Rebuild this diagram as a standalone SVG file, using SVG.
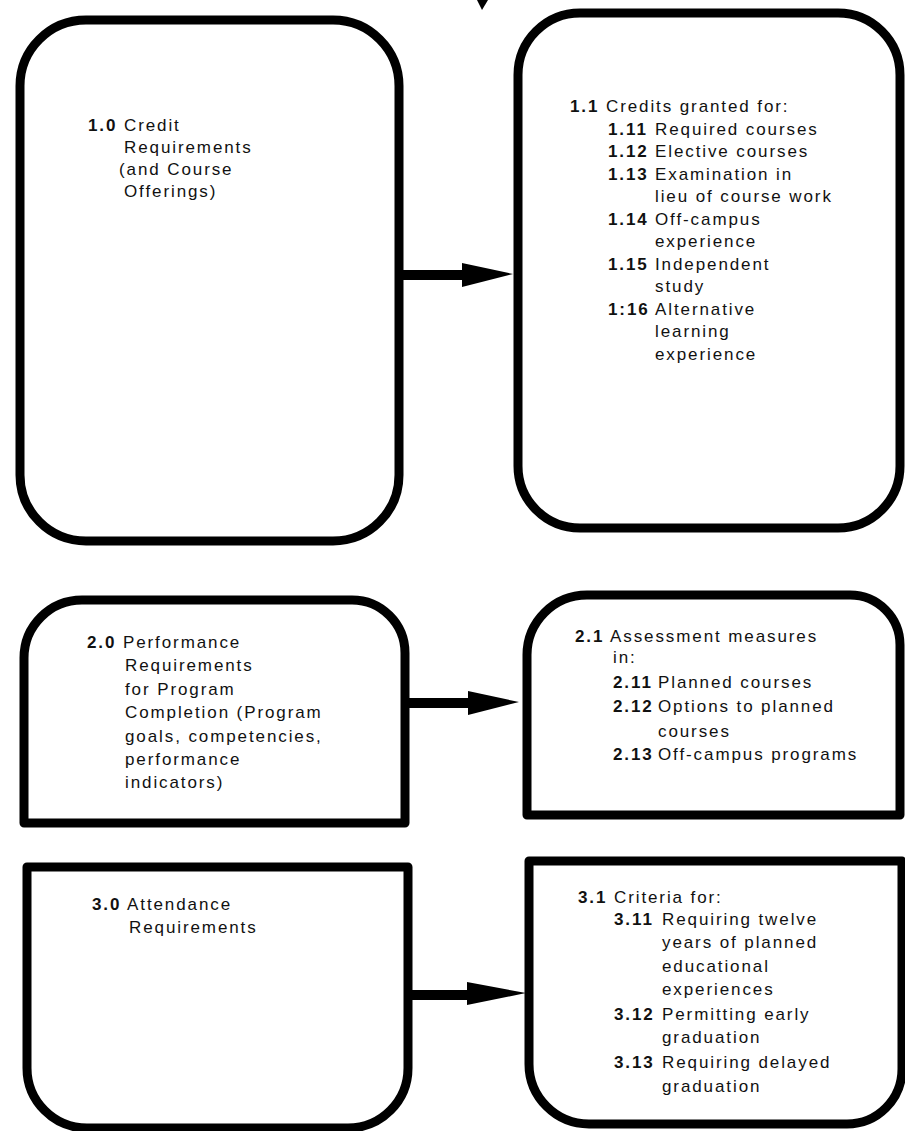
<svg xmlns="http://www.w3.org/2000/svg" width="905" height="1131" viewBox="0 0 905 1131">
  <style>
    .box { fill: none; stroke: #000; stroke-width: 9; stroke-linejoin: round; }
    .wire { stroke: #000; stroke-width: 10; fill: none; }
    .head { fill: #000; }
    text { font-family: "Liberation Sans", Arial, sans-serif; font-size: 17px; letter-spacing: 1.9px; fill: #111; }
    .n { font-weight: bold; }
  </style>
  <rect width="905" height="1131" fill="#fff"/>

  <!-- stray mark at the top edge -->
  <path d="M477 0 L488 0 L482 10 Z" fill="#000"/>

  <g id="n1-0">
    <rect class="box" x="20" y="20" width="379" height="521" rx="66" ry="66"/>
    <text x="88" y="131"><tspan class="n">1.0</tspan> Credit</text>
    <text x="124" y="153">Requirements</text>
    <text x="119" y="175">(and Course</text>
    <text x="124" y="197">Offerings)</text>
  </g>

  <g id="n1-1">
    <rect class="box" x="518" y="13" width="382" height="515" rx="62" ry="62"/>
    <text x="570" y="112"><tspan class="n">1.1</tspan> Credits granted for:</text>
    <text x="608" y="135"><tspan class="n">1.11</tspan><tspan x="655">Required courses</tspan></text>
    <text x="608" y="157"><tspan class="n">1.12</tspan><tspan x="655">Elective courses</tspan></text>
    <text x="608" y="180"><tspan class="n">1.13</tspan><tspan x="655">Examination in</tspan></text>
    <text x="655" y="202">lieu of course work</text>
    <text x="608" y="225"><tspan class="n">1.14</tspan><tspan x="655">Off-campus</tspan></text>
    <text x="655" y="247">experience</text>
    <text x="608" y="270"><tspan class="n">1.15</tspan><tspan x="655">Independent</tspan></text>
    <text x="655" y="292">study</text>
    <text x="608" y="315"><tspan class="n">1:16</tspan><tspan x="655">Alternative</tspan></text>
    <text x="655" y="337">learning</text>
    <text x="655" y="360">experience</text>
  </g>

  <g id="n2-0">
    <path class="box" d="M24 823 L24 658 A58 58 0 0 1 82 600 L352 600 A53 53 0 0 1 405 653 L405 823 Z"/>
    <text x="87" y="648"><tspan class="n">2.0</tspan> Performance</text>
    <text x="125" y="671">Requirements</text>
    <text x="125" y="695">for Program</text>
    <text x="125" y="718">Completion (Program</text>
    <text x="125" y="742">goals, competencies,</text>
    <text x="125" y="765">performance</text>
    <text x="125" y="788">indicators)</text>
  </g>

  <g id="n2-1">
    <path class="box" d="M527 815 L527 655 A60 60 0 0 1 587 595 L850 595 A50 50 0 0 1 900 645 L900 815 Z"/>
    <text x="575" y="642"><tspan class="n">2.1</tspan> Assessment measures</text>
    <text x="613" y="663">in:</text>
    <text x="613" y="688"><tspan class="n">2.11</tspan><tspan x="658">Planned courses</tspan></text>
    <text x="613" y="712"><tspan class="n">2.12</tspan><tspan x="658">Options to planned</tspan></text>
    <text x="658" y="737">courses</text>
    <text x="613" y="760"><tspan class="n">2.13</tspan><tspan x="658">Off-campus programs</tspan></text>
  </g>

  <g id="n3-0">
    <path class="box" d="M27 867 L408 867 L408 1068 A60 60 0 0 1 348 1128 L87 1128 A60 60 0 0 1 27 1068 Z"/>
    <text x="92" y="910"><tspan class="n">3.0</tspan> Attendance</text>
    <text x="129" y="933">Requirements</text>
  </g>

  <g id="n3-1">
    <path class="box" d="M529 861 L902 861 L902 1069 A55 55 0 0 1 847 1124 L589 1124 A60 60 0 0 1 529 1064 Z"/>
    <text x="578" y="903"><tspan class="n">3.1</tspan> Criteria for:</text>
    <text x="614" y="925"><tspan class="n">3.11</tspan><tspan x="662">Requiring twelve</tspan></text>
    <text x="662" y="948">years of planned</text>
    <text x="662" y="972">educational</text>
    <text x="662" y="995">experiences</text>
    <text x="614" y="1020"><tspan class="n">3.12</tspan><tspan x="662">Permitting early</tspan></text>
    <text x="662" y="1043">graduation</text>
    <text x="614" y="1068"><tspan class="n">3.13</tspan><tspan x="662">Requiring delayed</tspan></text>
    <text x="662" y="1092">graduation</text>
  </g>

  <g id="connectors">
    <line class="wire" x1="403" y1="275" x2="465" y2="275"/>
    <path class="head" d="M462 263 L513 274 L462 287 Z"/>
    <line class="wire" x1="408" y1="703" x2="471" y2="703"/>
    <path class="head" d="M468 691 L519 702 L468 715 Z"/>
    <line class="wire" x1="412" y1="995" x2="470" y2="995"/>
    <path class="head" d="M467 982 L526 993 L467 1005 Z"/>
  </g>
</svg>
